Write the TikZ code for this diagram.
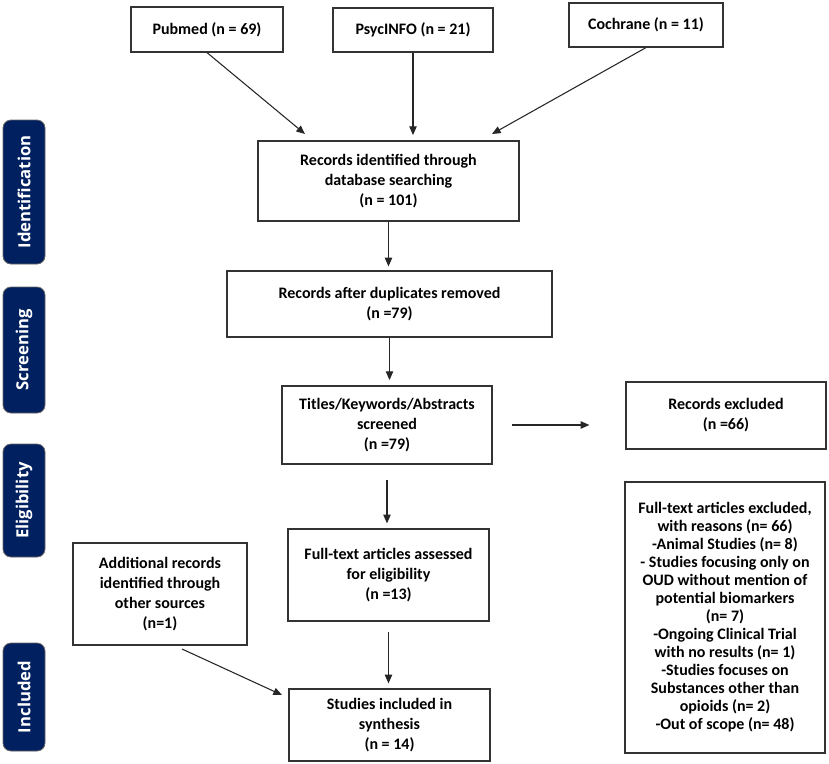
\documentclass[tikz,border=0pt]{standalone}
\usepackage{fontspec}
\setmainfont{Carlito}
\newfontfamily\fuenteFase{Open Sans}
\usetikzlibrary{arrows.meta}

\definecolor{azulFase}{RGB}{0,32,96}
\def\pxl{0.75pt}

\begin{document}
\begin{tikzpicture}[
    x=0.75pt, y=-0.75pt,
    % Estilo para las cajas del flujo (texto en negrita)
    caja/.style={
        draw=black!80, line width=0.9pt, align=center, inner sep=0pt,
        font=\fontsize{12}{15}\selectfont\bfseries
    },
    % Caja de exclusiones (interlineado menor)
    cajaLista/.style={
        caja, font=\fontsize{12}{13.5}\selectfont\bfseries
    },
    % Etiquetas de fase (azul oscuro, rotadas)
    etiquetaFase/.style={
        draw=black!60, line width=0.6pt, fill=azulFase, text=white,
        rounded corners=6pt, rotate=90, inner sep=0pt,
        font=\fuenteFase\fontsize{12.5}{14}\selectfont\bfseries
    },
    % Flechas de conexion
    flecha/.style={
        line width=0.8pt, black!85, -{Triangle[length=6.5pt, width=5.5pt]}
    }
]
    \useasboundingbox (0,0) rectangle (829,764);

    % --- ETIQUETAS DE FASE ---
    \node[etiquetaFase, minimum width=144*\pxl, minimum height=42*\pxl] (faseIdent) at (24,192) {Identification};
    \node[etiquetaFase, minimum width=126*\pxl, minimum height=42*\pxl] (faseCribado) at (24,350) {Screening};
    \node[etiquetaFase, minimum width=113*\pxl, minimum height=42*\pxl] (faseElegib) at (24,500.5) {Eligibility};
    \node[etiquetaFase, minimum width=108*\pxl, minimum height=42*\pxl] (faseIncl) at (24,697) {Included};

    % --- BASES DE DATOS ---
    \node[caja, minimum width=152*\pxl, minimum height=45*\pxl] (pubmed) at (207,29.5) {Pubmed (n = 69)};
    \node[caja, minimum width=160*\pxl, minimum height=44*\pxl] (psyc) at (413,30) {PsycINFO (n = 21)};
    \node[caja, minimum width=154*\pxl, minimum height=44*\pxl] (cochrane) at (646,25) {Cochrane (n = 11)};

    % --- CAJAS CENTRALES ---
    \node[caja, minimum width=261*\pxl, minimum height=80*\pxl] (ident) at (388.5,181)
        {Records identified through\\ database searching\\ (n = 101)};
    \node[caja, minimum width=325*\pxl, minimum height=66*\pxl] (dupl) at (389.5,304)
        {Records after duplicates removed\\ (n =79)};
    \node[caja, minimum width=210*\pxl, minimum height=78*\pxl] (titulos) at (387,425)
        {Titles/Keywords/Abstracts\\ screened\\ (n =79)};
    \node[caja, minimum width=201*\pxl, minimum height=92*\pxl] (evaluados) at (388.5,575)
        {Full-text articles assessed\\ for eligibility\\ (n =13)};
    \node[caja, minimum width=201*\pxl, minimum height=72*\pxl] (incluidos) at (389.5,725)
        {Studies included in\\ synthesis\\ (n = 14)};

    % --- CAJAS LATERALES ---
    \node[caja, minimum width=174*\pxl, minimum height=102*\pxl] (adicional) at (160,594)
        {Additional records\\ identified through\\ other sources\\ (n=1)};
    \node[caja, minimum width=200*\pxl, minimum height=67*\pxl] (excluidos) at (726,415.5)
        {Records excluded\\ (n =66)};
    \node[cajaLista, minimum width=200*\pxl, minimum height=271*\pxl] (excluTexto) at (725,617.5)
        {Full-text articles excluded,\\ with reasons (n= 66)\\ -Animal Studies (n= 8)\\
         - Studies focusing only on\\ OUD without mention of\\ potential biomarkers\\ (n= 7)\\
         -Ongoing Clinical Trial\\ with no results (n= 1)\\ -Studies focuses on\\
         Substances other than\\ opioids (n= 2)\\ -Out of scope (n= 48)};

    % Puntos auxiliares (extremos libres de flechas)
    \coordinate (puntaPub) at (305,134);
    \coordinate (puntaCoch) at (492,134);
    \coordinate (salidaAd) at (182,649);
    \coordinate (puntaAd) at (282,695);

    % --- FLECHAS ---
    \draw[flecha] (pubmed.south) -- (puntaPub);
    \draw[flecha, shorten >=4pt] (psyc.south) -- (psyc.south |- ident.north);
    \draw[flecha] (cochrane.south) -- (puntaCoch);
    \draw[flecha, shorten >=3pt] (ident.south) -- (ident.south |- dupl.north);
    \draw[flecha, shorten >=4pt] (dupl.south) -- (dupl.south |- titulos.north);
    \draw[flecha, shorten <=14.25pt, shorten >=27pt] (titulos.east) -- (titulos.east -| excluidos.west);
    \draw[flecha, shorten <=11.25pt, shorten >=3.75pt] (titulos.south) -- (titulos.south |- evaluados.north);
    \draw[flecha, shorten <=7.5pt, shorten >=3.75pt] (evaluados.south) -- (evaluados.south |- incluidos.north);
    \draw[flecha] (salidaAd) -- (puntaAd);

\end{tikzpicture}
\end{document}
